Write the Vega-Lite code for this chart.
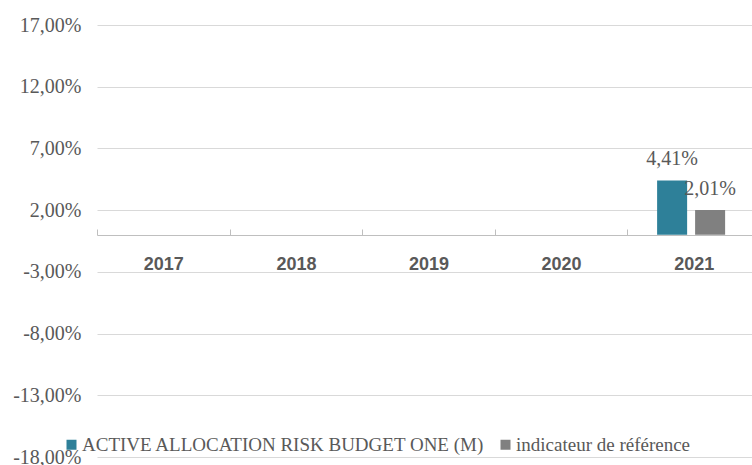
{
  "$schema": "https://vega.github.io/schema/vega-lite/v6.json",
  "autosize": {"type": "none"},
  "padding": {"left": 97, "top": 25, "right": 0, "bottom": 8},
  "width": 655,
  "height": 432,
  "background": "white",
  "config": {"view": {"stroke": null}, "font": "Liberation Serif", "legend": {"labelFont": "Liberation Serif"}},
  "data": {
    "values": [
      {"year": "2017", "series": "ACTIVE ALLOCATION RISK BUDGET ONE (M)", "value": null, "label": ""},
      {"year": "2017", "series": "indicateur de référence", "value": null, "label": ""},
      {"year": "2018", "series": "ACTIVE ALLOCATION RISK BUDGET ONE (M)", "value": null, "label": ""},
      {"year": "2018", "series": "indicateur de référence", "value": null, "label": ""},
      {"year": "2019", "series": "ACTIVE ALLOCATION RISK BUDGET ONE (M)", "value": null, "label": ""},
      {"year": "2019", "series": "indicateur de référence", "value": null, "label": ""},
      {"year": "2020", "series": "ACTIVE ALLOCATION RISK BUDGET ONE (M)", "value": null, "label": ""},
      {"year": "2020", "series": "indicateur de référence", "value": null, "label": ""},
      {"year": "2021", "series": "ACTIVE ALLOCATION RISK BUDGET ONE (M)", "value": 4.41, "label": "4,41%"},
      {"year": "2021", "series": "indicateur de référence", "value": 2.01, "label": "2,01%"}
    ]
  },
  "encoding": {
    "x": {
      "field": "year", "type": "nominal", "sort": null,
      "scale": {"domain": ["2017", "2018", "2019", "2020", "2021"], "range": [0, 663], "paddingInner": 0, "paddingOuter": 0},
      "axis": {
        "title": null, "orient": "bottom", "offset": -222,
        "labelAngle": 0, "tickBand": "extent", "tickSize": -6,
        "tickColor": "#bfbfbf", "domainColor": "#bfbfbf",
        "labelFont": "Liberation Sans", "labelFontWeight": "bold",
        "labelFontSize": 18, "labelColor": "#595959", "labelPadding": 26,
        "grid": false
      }
    },
    "xOffset": {
      "field": "series", "type": "nominal", "sort": null,
      "scale": {"domain": ["ACTIVE ALLOCATION RISK BUDGET ONE (M)", "indicateur de référence"], "paddingInner": 0.21, "paddingOuter": 0.85, "align": 0.46}
    },
    "y": {
      "field": "value", "type": "quantitative",
      "scale": {"domain": [-18, 17], "nice": false, "zero": false},
      "axis": {
        "title": null, "values": [-18, -13, -8, -3, 2, 7, 12, 17],
        "labelExpr": "(datum.value < 0 ? '-' : '') + replace(format(abs(datum.value), '.2f'), '.', ',') + '%'",
        "domain": false, "ticks": false, "gridColor": "#d9d9d9",
        "labelFont": "Liberation Serif", "labelFontSize": 20,
        "labelColor": "#595959", "labelPadding": 16
      }
    }
  },
  "layer": [
    {
      "mark": {"type": "bar"},
      "encoding": {
        "color": {
          "field": "series", "type": "nominal", "sort": null,
          "scale": {"domain": ["ACTIVE ALLOCATION RISK BUDGET ONE (M)", "indicateur de référence"], "range": ["#2e8099", "#808080"]},
          "legend": {
            "title": null, "orient": "none", "direction": "horizontal",
            "legendX": -35, "legendY": 410,
            "symbolType": "square", "symbolSize": 100, "symbolOpacity": 1, "symbolStrokeWidth": 0,
            "labelFont": "Liberation Serif", "labelFontSize": 19,
            "labelColor": "#595959", "labelOffset": 1, "columnPadding": 11,
            "labelLimit": 600,
            "encode": {"labels": {"update": {"font": {"value": "Liberation Serif"}}}}
          }
        }
      }
    },
    {
      "transform": [{"filter": "datum.value != null"}],
      "mark": {"type": "text", "baseline": "bottom", "dy": -11, "font": "Liberation Serif", "fontSize": 20, "color": "#595959"},
      "encoding": {
        "text": {"field": "label", "type": "nominal"}
      }
    }
  ]
}
